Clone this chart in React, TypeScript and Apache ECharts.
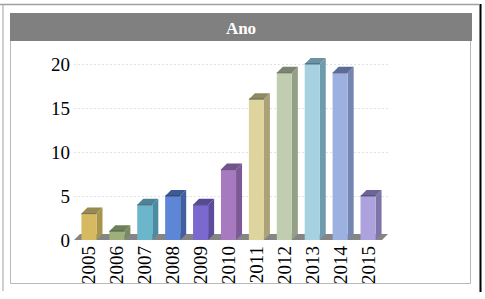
import React, { useEffect, useRef } from "react";
import * as echarts from "echarts";

const years = ["2005", "2006", "2007", "2008", "2009", "2010", "2011", "2012", "2013", "2014", "2015"];
const values = [3, 1, 4, 5, 4, 8, 16, 19, 20, 19, 5];
const yTicks = [5, 10, 15, 20];
const frontColors = ["#d6ba62", "#9db07c", "#6cb6cc", "#5e86d6", "#7b69cf", "#a77abf", "#ded49e", "#c1cdb1", "#a6d1e0", "#9db1e0", "#aea2de"];
const sideColors = ["#a8944a", "#7a8a62", "#4a8ca2", "#4060a2", "#5a4d9e", "#7d5a96", "#aca27a", "#93a087", "#6e9caa", "#7585b2", "#7e76aa"];
const topColors = ["#968a50", "#6f8058", "#4f8296", "#3c5a94", "#574a90", "#71558a", "#908a64", "#7c8470", "#6a94a4", "#5c6c98", "#6c6698"];

const FONT = "'Liberation Serif', 'DejaVu Serif', serif";
const D = 6;

export default function App() {
  const ref = useRef<HTMLDivElement>(null);
  useEffect(() => {
    const chart = echarts.init(ref.current!, null, { renderer: "svg" });
    chart.setOption({
      animation: false,
      backgroundColor: "#ffffff",
      grid: { left: 75, right: 103, top: 64, bottom: 59, containLabel: false, outerBoundsMode: "none" },
      xAxis: {
        type: "category",
        data: years,
        axisLine: { show: false },
        axisTick: { show: false },
        splitLine: { show: false },
        axisLabel: { rotate: 90, fontFamily: FONT, fontSize: 19, color: "#000", margin: 6, interval: 0 },
      },
      yAxis: {
        type: "value",
        min: 0,
        max: 20,
        interval: 5,
        axisLine: { show: false },
        axisTick: { show: false },
        splitLine: { show: false },
        axisLabel: { fontFamily: FONT, fontSize: 19, color: "#000", margin: 5, padding: [4, 0, 0, 0] },
      },
      graphic: [
        { type: "line", shape: { x1: 0, y1: 4.5, x2: 479, y2: 4.5 }, style: { stroke: "#a0a0a0", lineWidth: 1.5 }, silent: true },
        { type: "line", shape: { x1: 3, y1: 4, x2: 3, y2: 291 }, style: { stroke: "#a0a0a0", lineWidth: 1 }, silent: true },
        { type: "line", shape: { x1: 480.5, y1: 4, x2: 480.5, y2: 292 }, style: { stroke: "#000000", lineWidth: 2 }, silent: true },
        { type: "rect", shape: { x: 10.5, y: 13.5, width: 460, height: 270 }, style: { fill: "none", stroke: "#b8b8b8", lineWidth: 1 }, silent: true },
        { type: "rect", shape: { x: 10, y: 13, width: 462, height: 28 }, style: { fill: "#808080" }, silent: true },
        {
          type: "text",
          x: 241,
          y: 28,
          style: { text: "Ano", fill: "#ffffff", font: `bold 17px ${FONT}`, align: "center", verticalAlign: "middle" },
          silent: true,
        },
      ],
      series: [
        {
          type: "custom",
          z: 1,
          data: yTicks.map((v) => [0, v]),
          renderItem: (params: any, api: any) => {
            const cs = params.coordSys;
            const y = Math.round(api.coord([0, api.value(1)])[1]) + 0.5;
            return {
              type: "line",
              shape: { x1: cs.x - 1, y1: y, x2: cs.x + cs.width + D, y2: y },
              style: { stroke: "#e2e2e2", lineWidth: 1, lineDash: [2, 2] },
            };
          },
        },
        {
          type: "custom",
          z: 2,
          data: [[0, 0]],
          renderItem: (params: any, api: any) => {
            const cs = params.coordSys;
            const y0 = api.coord([0, 0])[1];
            return {
              type: "polygon",
              shape: {
                points: [
                  [cs.x - 1, y0],
                  [cs.x - 1 + D, y0 - D],
                  [cs.x + cs.width + D, y0 - D],
                  [cs.x + cs.width, y0],
                ],
              },
              style: { fill: "#858585" },
            };
          },
        },
        {
          type: "custom",
          z: 3,
          data: values.map((v, i) => [i, v]),
          renderItem: (params: any, api: any) => {
            const i = params.dataIndex;
            const base = api.coord([api.value(0), 0]);
            const top = api.coord([api.value(0), api.value(1)]);
            const bw = api.size([1, 0])[0] * 0.54;
            const x0 = base[0] - bw / 2;
            const x1 = x0 + bw;
            const yb = base[1];
            const yt = top[1];
            return {
              type: "group",
              children: [
                {
                  type: "polygon",
                  shape: { points: [[x1, yt], [x1 + D, yt - D], [x1 + D, yb - D], [x1, yb]] },
                  style: { fill: sideColors[i] },
                },
                {
                  type: "polygon",
                  shape: { points: [[x0, yt], [x0 + D, yt - D], [x1 + D, yt - D], [x1, yt]] },
                  style: { fill: topColors[i] },
                },
                {
                  type: "rect",
                  shape: { x: x0, y: yt, width: bw, height: yb - yt },
                  style: { fill: frontColors[i] },
                },
                {
                  type: "line",
                  shape: { x1: x0, y1: yt, x2: x1, y2: yt },
                  style: { stroke: "rgba(30,40,50,0.55)", lineWidth: 1 },
                },
              ],
            };
          },
        },
      ],
    });
    return () => chart.dispose();
  }, []);
  return (
    <div
      ref={ref}
      style={{ position: "fixed", left: 0, top: 0, width: 485, height: 299, background: "#fff" }}
    />
  );
}
